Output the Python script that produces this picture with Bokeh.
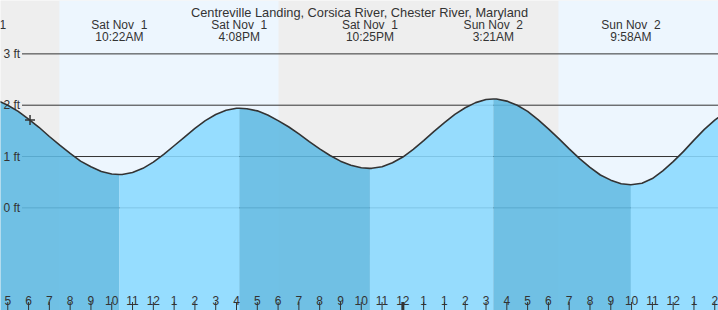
from bokeh.plotting import figure
from bokeh.models import Range1d
from bokeh.core.properties import value
from bokeh.embed import file_html
from bokeh.resources import INLINE

# ---------------- data (elapsed hours since Sat Nov 1 00:00 EDT, feet) ----------------
title_text = "Centreville Landing, Corsica River, Chester River, Maryland"

tide_hours = [4.5, 5.0, 5.5, 6.0, 6.5, 7.0, 7.5, 8.0, 8.5, 9.0, 9.5, 10.0, 10.367,
              10.5, 11.0, 11.5, 12.0, 12.5, 13.0, 13.5, 14.0, 14.5, 15.0, 15.5, 16.0, 16.133,
              16.5, 17.0, 17.5, 18.0, 18.5, 19.0, 19.5, 20.0, 20.5, 21.0, 21.5, 22.0, 22.417,
              22.5, 23.0, 23.5, 24.0, 24.5, 25.0, 25.5, 26.0, 26.5, 27.0, 27.5, 28.0, 28.35,
              28.5, 29.0, 29.5, 30.0, 30.5, 31.0, 31.5, 32.0, 32.5, 33.0, 33.5, 34.0, 34.5, 34.967,
              35.5, 36.0, 36.5, 37.0, 37.5, 38.0, 38.5, 39.0, 39.5]
tide_feet = [2.09, 2.00, 1.88, 1.73, 1.57, 1.39, 1.22, 1.06, 0.91, 0.80, 0.71, 0.66, 0.65,
             0.65, 0.69, 0.77, 0.89, 1.04, 1.21, 1.38, 1.55, 1.70, 1.82, 1.90, 1.94, 1.94,
             1.93, 1.89, 1.81, 1.70, 1.58, 1.44, 1.29, 1.15, 1.02, 0.91, 0.83, 0.78, 0.77,
             0.77, 0.80, 0.88, 0.99, 1.14, 1.31, 1.49, 1.66, 1.82, 1.95, 2.05, 2.11, 2.12,
             2.12, 2.08, 2.00, 1.88, 1.72, 1.54, 1.35, 1.15, 0.96, 0.79, 0.64, 0.54, 0.47, 0.45,
             0.48, 0.57, 0.72, 0.90, 1.10, 1.32, 1.53, 1.71, 1.86]

event_hours = [3.58, 10.367, 16.133, 22.417, 28.35, 34.967]
event_days = ["Sat Nov\u00a0 1", "Sat Nov\u00a0 1", "Sat Nov\u00a0 1", "Sat Nov\u00a0 1",
              "Sun Nov\u00a0 2", "Sun Nov\u00a0 2"]
event_times = ["3:35AM", "10:22AM", "4:08PM", "10:25PM", "3:21AM", "9:58AM"]

sunrise_hours = [7.48, 31.48]
sunset_hours = [18.02]

tick_hours = list(range(5, 40))
tick_labels = ["5", "6", "7", "8", "9", "10", "11", "12", "1", "2", "3", "4",
               "5", "6", "7", "8", "9", "10", "11", "12", "1", "1", "2", "3", "4",
               "5", "6", "7", "8", "9", "10", "11", "12", "1", "2"]
midnight_hour = 24

grid_feet = [0, 1, 2, 3]
grid_labels = ["0 ft", "1 ft", "2 ft", "3 ft"]

now_hour = [6.07]
now_feet = [1.71]

# ---------------- figure ----------------
X0, X1 = 4.65, 39.18
Y0, Y1 = -2.0, 4.04
W, H = 718, 310
FONT = value("Liberation Sans")
TXT = "#333333"

p = figure(width=W, height=H, x_range=Range1d(X0, X1), y_range=Range1d(Y0, Y1),
           output_backend="svg", toolbar_location=None,
           x_axis_location=None, y_axis_location=None, min_border=0)
p.grid.visible = False
p.outline_line_color = None
p.background_fill_color = "#eeeeee"
p.border_fill_color = "#eeeeee"

# daylight
day_left = sunrise_hours
day_right = sunset_hours + [X1 + 1]
p.quad(left=day_left, right=day_right, bottom=Y0, top=Y1,
       fill_color="#edf6fe", line_color=None)

# grid lines
px_per_hour = W / (X1 - X0)
gx0 = X0 + 21.5 / px_per_hour
p.segment(x0=[gx0] * len(grid_feet), x1=[X1] * len(grid_feet), y0=grid_feet, y1=grid_feet,
          line_color="#333333", line_width=1)

# water fill, split at extremes
bounds = sorted(set([X0 - 1] + event_hours + [X1 + 1]))
for a, b in zip(bounds[:-1], bounds[1:]):
    xs = [t for t in tide_hours if a <= t <= b]
    ys = [f for t, f in zip(tide_hours, tide_feet) if a <= t <= b]
    if len(xs) < 2:
        continue
    falling = ys[0] > ys[-1]
    color = "#5fb9e3" if falling else "#8ad9ff"
    p.varea(x=xs, y1=[Y0] * len(xs), y2=ys, fill_color=color, fill_alpha=0.88)

# tide curve
p.line(tide_hours, tide_feet, line_color="#333333", line_width=1.6)

# current-time marker
p.scatter(now_hour, now_feet, marker="cross", size=10, line_color="#333333", line_width=1.5)

# hour ticks and labels at bottom
tick_w = [3 if h == midnight_hour else 1 for h in tick_hours]
p.segment(x0=tick_hours, x1=tick_hours, y0=[Y0] * len(tick_hours),
          y1=[Y0 + 8.5 / (H / (Y1 - Y0))] * len(tick_hours),
          line_color="#333333", line_width=tick_w)
p.text(x=tick_hours, y=[Y0] * len(tick_hours), text=tick_labels, y_offset=-10,
       text_font=FONT, text_font_size="12px", text_color=TXT,
       text_align="center", text_baseline="alphabetic")

# y labels
p.text(x=[X0] * len(grid_feet), y=grid_feet, text=grid_labels, x_offset=3,
       text_font=FONT, text_font_size="12px", text_color=TXT,
       text_align="left", text_baseline="middle")

# event labels
p.text(x=event_hours, y=[Y1] * len(event_hours), text=event_days, y_offset=24,
       text_font=FONT, text_font_size="12px", text_color=TXT,
       text_align="center", text_baseline="alphabetic")
p.text(x=event_hours, y=[Y1] * len(event_hours), text=event_times, y_offset=36,
       text_font=FONT, text_font_size="12px", text_color=TXT,
       text_align="center", text_baseline="alphabetic")

# title
p.text(x=[(X0 + X1) / 2], y=[Y1], text=[title_text], y_offset=12,
       text_font=FONT, text_font_size="12.8px", text_color=TXT,
       text_align="center", text_baseline="alphabetic")

open("out.html", "w").write(file_html(p, INLINE))
